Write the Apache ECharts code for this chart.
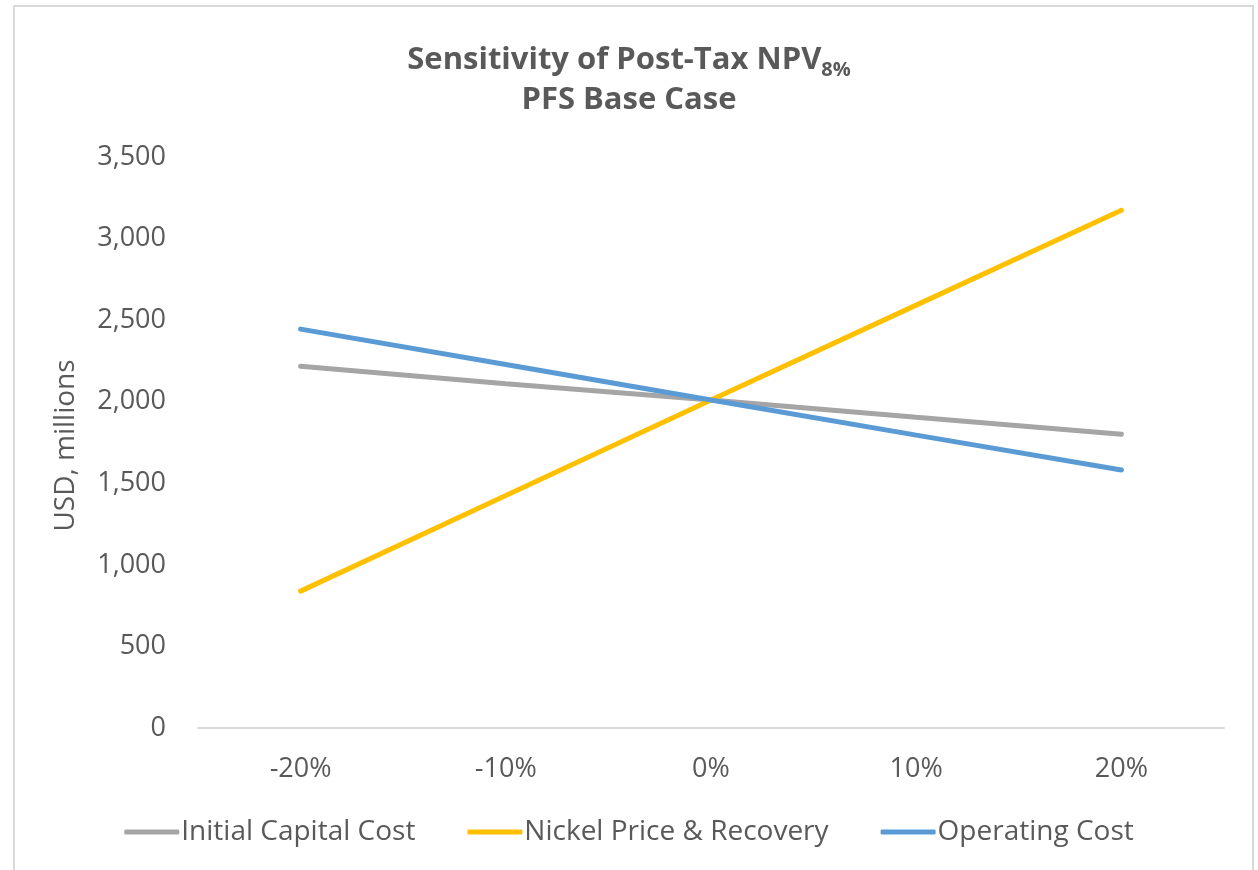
<!DOCTYPE html>
<html>
<head>
<meta charset="utf-8">
<script src="https://cdn.jsdelivr.net/npm/echarts@6/dist/echarts.min.js"></script>
<style>html,body{margin:0;padding:0;background:#fff;}#c{width:1258px;height:870px;}</style>
</head>
<body>
<div id="c"></div>
<script>
var categories = ['-20%', '-10%', '0%', '10%', '20%'];
var initialCapitalCost = [2218, 2110, 2010, 1905, 1801];
var nickelPriceRecovery = [839, 1425, 2010, 2592, 3174];
var operatingCost = [2445, 2228, 2010, 1795, 1581];
var seriesNames = ['Initial Capital Cost', 'Nickel Price & Recovery', 'Operating Cost'];

var FONT = '"Open Sans", "Noto Sans", sans-serif';
var TXT = '#595959';
var chart = echarts.init(document.getElementById('c'), null, {renderer: 'canvas'});
chart.setOption({
  backgroundColor: '#fff',
  animation: false,
  graphic: [{
    type: 'rect', shape: {x: 14, y: 6, width: 1239, height: 900},
    style: {fill: 'none', stroke: '#D9D9D9', lineWidth: 2}, silent: true, z: -1
  }],
  title: {
    left: 'center', top: 35,
    text: '{a|Sensitivity of Post-Tax NPV}{s|8%}\n{a|PFS Base Case}',
    textStyle: {
      rich: {
        a: {fontFamily: FONT, fontSize: 31, fontWeight: 'bold', color: TXT, lineHeight: 40},
        s: {fontFamily: FONT, fontSize: 20, fontWeight: 'bold', color: TXT, lineHeight: 20, verticalAlign: 'bottom'}
      }
    }
  },
  legend: {
    bottom: 19, left: 'center',
    itemWidth: 55, itemHeight: 5, itemGap: 52,
    icon: 'roundRect',
    textStyle: {fontFamily: FONT, fontSize: 28, color: TXT, padding: [0, 0, 0, -3]},
    data: seriesNames
  },
  grid: {left: 198, right: 34, top: 157, bottom: 142, containLabel: false},
  xAxis: {
    type: 'category', data: categories, boundaryGap: true,
    axisLine: {lineStyle: {color: '#D9D9D9', width: 2}},
    axisTick: {show: false},
    axisLabel: {fontFamily: FONT, fontSize: 27, color: TXT, margin: 28}
  },
  yAxis: {
    type: 'value', min: 0, max: 3500, interval: 500,
    name: 'USD, millions', nameLocation: 'middle', nameGap: 118, nameRotate: 90,
    nameTextStyle: {fontFamily: FONT, fontSize: 28, color: TXT, padding: [0, 0, 0, -6]},
    axisLine: {show: false}, axisTick: {show: false}, splitLine: {show: false},
    axisLabel: {fontFamily: FONT, fontSize: 27, color: TXT, margin: 32,
      formatter: function (v) { return v.toLocaleString('en-US'); }}
  },
  series: [
    {name: seriesNames[0], type: 'line', data: initialCapitalCost, symbol: 'none',
      lineStyle: {color: '#A5A5A5', width: 5, cap: 'round'}, itemStyle: {color: '#A5A5A5'}},
    {name: seriesNames[1], type: 'line', data: nickelPriceRecovery, symbol: 'none',
      lineStyle: {color: '#FFC000', width: 5, cap: 'round'}, itemStyle: {color: '#FFC000'}},
    {name: seriesNames[2], type: 'line', data: operatingCost, symbol: 'none',
      lineStyle: {color: '#5B9BD5', width: 5, cap: 'round'}, itemStyle: {color: '#5B9BD5'}}
  ]
});
</script>
</body>
</html>
